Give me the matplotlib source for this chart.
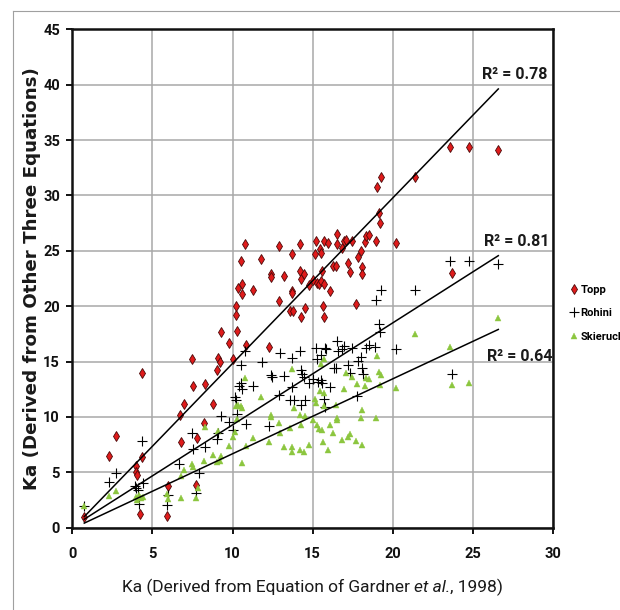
import matplotlib
matplotlib.use("Agg")
import matplotlib.pyplot as plt
from matplotlib.lines import Line2D
import numpy as np

plt.rcParams['font.family'] = ['Roboto', 'Liberation Sans', 'DejaVu Sans']

# Topp (red diamonds)
topp_x = [0.74, 2.3, 2.7, 3.95, 4.0, 4.05, 4.35, 4.37, 4.2, 5.9, 6.0, 6.7, 6.8, 7.0, 7.5,
          7.55, 7.7, 7.8, 8.2, 8.3, 8.75, 9.0, 9.1, 9.2, 9.25, 9.8, 10.0, 10.2, 10.2, 10.3,
          10.35, 10.55, 10.6, 10.6, 10.8, 10.85, 11.25, 11.8, 12.3, 12.4, 12.4, 12.9, 12.9,
          13.2, 13.6, 13.7, 13.7, 13.7, 13.8, 14.2, 14.2, 14.25, 14.3, 14.45, 14.5, 14.75,
          15.05, 15.15, 15.2, 15.3, 15.4, 15.45, 15.5, 15.5, 15.6, 15.7, 15.65, 15.7, 15.7,
          15.95, 16.1, 16.3, 16.45, 16.5, 16.55, 16.85, 16.95, 17.1, 17.2, 17.35, 17.45,
          17.7, 17.85, 18.0, 18.1, 18.1, 18.25, 18.35, 18.5, 18.95, 19.05, 19.15, 19.2,
          19.3, 20.2, 21.4, 23.6, 23.7, 24.8, 26.6]
topp_y = [1.0, 6.5, 8.3, 5.6, 5.0, 4.8, 14.0, 6.4, 1.26, 1.1, 3.8, 10.2, 7.7, 11.2, 15.2,
          12.8, 3.9, 8.1, 9.5, 13.0, 11.2, 14.2, 15.3, 15.0, 17.7, 16.7, 15.2, 19.2, 20.0, 17.8,
          21.6, 24.1, 22.0, 21.1, 25.6, 16.5, 21.5, 24.3, 16.3, 22.9, 22.6, 20.5, 25.4,
          22.7, 19.6, 24.7, 21.4, 21.2, 19.6, 25.6, 23.2, 22.5, 19.0, 22.9, 19.8, 21.9,
          22.4, 24.7, 25.9, 22.1, 22.0, 25.2, 24.8, 22.3, 23.2, 22.0, 20.0, 19.0, 25.9,
          25.7, 21.4, 23.6, 23.6, 26.5, 25.6, 25.3, 25.9, 26.0, 23.9, 23.1, 25.9,
          20.2, 24.4, 25.0, 23.5, 22.9, 25.8, 26.3, 26.4, 25.9, 30.8, 28.4, 27.5,
          31.7, 25.7, 31.7, 34.4, 23.0, 34.4, 34.1]

# Rohini (black plus)
rohini_x = [0.75, 2.3, 2.75, 3.9, 4.0, 4.07, 4.17, 4.35, 4.4, 5.9, 6.0, 6.67, 7.5, 7.55,
            7.7, 7.9, 8.3, 9.0, 9.1, 9.25, 9.75, 10.05, 10.15, 10.2, 10.3, 10.4, 10.5,
            10.55, 10.6, 10.8, 10.85, 11.25, 11.85, 12.3, 12.4, 12.45, 12.9, 12.95, 13.2,
            13.6, 13.7, 13.7, 13.85, 14.2, 14.25, 14.35, 14.45, 14.55, 14.3, 14.75, 15.05,
            15.2, 15.25, 15.35, 15.5, 15.5, 15.6, 15.7, 15.75, 15.8, 15.85, 16.1, 16.35,
            16.45, 16.5, 16.6, 16.85, 16.95, 17.2, 17.35, 17.45, 17.75, 17.85, 18.0, 18.1,
            18.15, 18.35, 18.5, 18.95, 18.9, 19.15, 19.2, 19.3, 20.2, 21.4, 23.6, 23.7,
            24.8, 26.6]
rohini_y = [2.0, 4.1, 4.95, 3.75, 3.6, 3.4, 2.15, 7.8, 4.07, 2.07, 3.0, 5.75, 8.6, 7.15,
            3.1, 4.95, 7.25, 8.0, 8.6, 10.1, 9.55, 8.8, 11.8, 11.5, 10.3, 12.8, 13.05,
            14.7, 12.5, 16.0, 9.4, 12.8, 15.0, 9.2, 13.75, 13.6, 12.0, 15.8, 13.7,
            11.5, 12.7, 15.3, 11.5, 16.0, 14.2, 13.9, 13.65, 11.55, 11.05, 13.05, 13.4,
            16.2, 15.2, 13.15, 15.6, 13.35, 13.05, 11.6, 10.9, 16.25, 16.15, 12.7, 14.4,
            14.4, 16.85, 16.0, 16.1, 16.45, 14.7, 14.0, 16.25, 11.9, 15.1, 15.4, 14.4,
            13.9, 16.25, 16.5, 20.6, 16.3, 18.4, 17.65, 21.45, 16.15, 21.45, 24.1, 13.9,
            24.1, 23.8]

# Skierucha (green triangles)
skier_x = [0.74, 2.3, 2.7, 3.95, 4.05, 4.17, 4.27, 4.4, 5.9, 6.0, 6.8, 6.8, 7.0, 7.5, 7.55,
           7.7, 7.85, 8.2, 8.3, 8.75, 9.0, 9.1, 9.2, 9.25, 9.8, 10.0, 10.15, 10.2, 10.3,
           10.35, 10.55, 10.6, 10.6, 10.8, 10.85, 11.25, 11.8, 12.3, 12.4, 12.4, 12.9,
           12.95, 13.2, 13.6, 13.7, 13.7, 13.7, 13.85, 14.2, 14.2, 14.3, 14.45, 14.5,
           14.75, 15.05, 15.15, 15.2, 15.3, 15.4, 15.45, 15.5, 15.6, 15.7, 15.65, 15.7,
           15.7, 15.95, 16.1, 16.3, 16.45, 16.5, 16.55, 16.85, 16.95, 17.1, 17.2, 17.35,
           17.45, 17.7, 17.75, 18.0, 18.1, 18.1, 18.25, 18.35, 18.5, 18.95, 19.05, 19.15,
           19.2, 19.3, 20.2, 21.4, 23.6, 23.7, 24.8, 26.6]
skier_y = [2.0, 2.9, 3.3, 2.8, 2.5, 2.95, 2.65, 2.8, 3.05, 2.6, 2.65, 4.7, 5.2, 5.75, 5.45,
           2.65, 3.55, 6.05, 9.1, 6.55, 5.95, 8.7, 6.05, 6.5, 7.4, 8.15, 8.65, 10.95, 9.8,
           11.05, 10.95, 5.85, 10.8, 13.5, 7.35, 8.1, 11.8, 7.75, 10.2, 10.0, 9.5,
           8.6, 7.25, 9.0, 7.25, 6.85, 14.3, 10.85, 10.2, 7.05, 9.3, 6.8, 10.05,
           7.45, 9.7, 11.6, 11.25, 9.25, 8.9, 12.35, 14.75, 8.85, 10.95, 7.7, 15.2,
           12.2, 7.0, 9.3, 8.55, 11.05, 9.7, 9.95, 7.95, 12.55, 13.95, 8.2, 8.5,
           13.65, 7.85, 12.95, 9.95, 10.6, 7.5, 12.8, 13.5, 13.4, 9.95, 15.5, 14.1,
           12.9, 13.75, 12.6, 17.5, 16.3, 12.9, 13.05, 18.9]

# linear trendlines (slope, intercept) and R2 labels
trend_slope = [1.493, 0.920, 0.676]
trend_icpt = [-0.10, 0.09, -0.08]
trend_xrange = [0.74, 26.6]
r2_labels = ['R\u00b2 = 0.78', 'R\u00b2 = 0.81', 'R\u00b2 = 0.64']
r2_pos = [(25.6, 40.9), (25.7, 25.8), (25.9, 15.5)]


def fit_size(t, target_px, renderer):
    # rescale a text so its rendered width matches the reference
    w = t.get_window_extent(renderer).width
    t.set_fontsize(t.get_fontsize() * target_px / w)


fig = plt.figure(figsize=(6.2, 6.1), dpi=100)
ax = fig.add_axes([0.1168, 0.1348, 0.7747, 0.8172])
renderer = fig.canvas.get_renderer()

ax.plot(topp_x, topp_y, ls='none', marker='d', ms=5.5, mfc='#e01b1b', mec='#4a0808',
        mew=0.6, label='Topp', zorder=3)
ax.plot(rohini_x, rohini_y, ls='none', marker='+', ms=6.5, mec='black', mew=0.8,
        label='Rohini', zorder=3)
ax.plot(skier_x, skier_y, ls='none', marker='^', ms=5, mfc='#8cc63f', mec='#8cc63f',
        mew=0.3, label='Skierucha', zorder=3)

xs = np.array(trend_xrange)
for m, b in zip(trend_slope, trend_icpt):
    ax.plot(xs, m * xs + b, color='black', lw=1.1, zorder=4)

for lab, (tx, ty) in zip(r2_labels, r2_pos):
    t = ax.text(tx, ty, lab, fontsize=15, fontweight='bold', ha='left', va='center',
                color='#1a1a1a', clip_on=False, zorder=5)
    fit_size(t, 66, renderer)

ax.set_xlim(0, 30)
ax.set_ylim(0, 45)
ax.set_xticks(np.arange(0, 31, 5))
ax.set_yticks(np.arange(0, 46, 5))
ax.grid(True, color='#a8a8a8', lw=1.1)
ax.set_axisbelow(True)
for sp in ax.spines.values():
    sp.set_linewidth(1.8)
    sp.set_color('#111111')
ax.tick_params(axis='both', direction='out', length=4, width=1.4, labelsize=10.5,
               colors='#111111')
ax.tick_params(axis='x', pad=10)
ax.tick_params(axis='y', pad=5)
for t in ax.get_xticklabels() + ax.get_yticklabels():
    t.set_fontweight('bold')

ylab = fig.text(0.051, 0.543, 'Ka (Derived from Other Three Equations)', rotation=90,
                ha='center', va='center', fontsize=12.5, fontweight='bold',
                family='DejaVu Sans', color='#1a1a1a')
ylab.set_rotation(0)
fit_size(ylab, 425, renderer)
ylab.set_rotation(90)

# x label with italic "et al."
parts = [('Ka (Derived from Equation of Gardner ', 'normal'), ('et al.', 'italic'),
         (', 1998)', 'normal')]
pieces = []
for s, st in parts:
    t = fig.text(0, 1 - 592 / 610, s, fontsize=14, style=st, ha='left', va='baseline',
                 color='#1a1a1a')
    pieces.append(t)
total = sum(t.get_window_extent(renderer).width for t in pieces)
for t in pieces:
    t.set_fontsize(14 * 385 / total)
x0 = 312.5 / 620
widths = [t.get_window_extent(renderer).width / fig.bbox.width for t in pieces]
x0 -= sum(widths) / 2
for t, w in zip(pieces, widths):
    t.set_x(x0)
    x0 += w

leg = fig.legend(loc='upper left', bbox_to_anchor=(0.913, 0.54), frameon=False,
                 handlelength=0.6, handletextpad=0.3, labelspacing=1.2,
                 borderaxespad=0, prop={'weight': 'bold', 'size': 8})

# outer chart frame
fig.add_artist(Line2D([12.5 / 620, 1], [1 - 11 / 610] * 2, transform=fig.transFigure,
                      color='#a0a0a0', lw=0.8))
fig.add_artist(Line2D([12.5 / 620] * 2, [1 - 11 / 610, 0], transform=fig.transFigure,
                      color='#a0a0a0', lw=0.8))

fig.savefig('out.png', dpi=100)
